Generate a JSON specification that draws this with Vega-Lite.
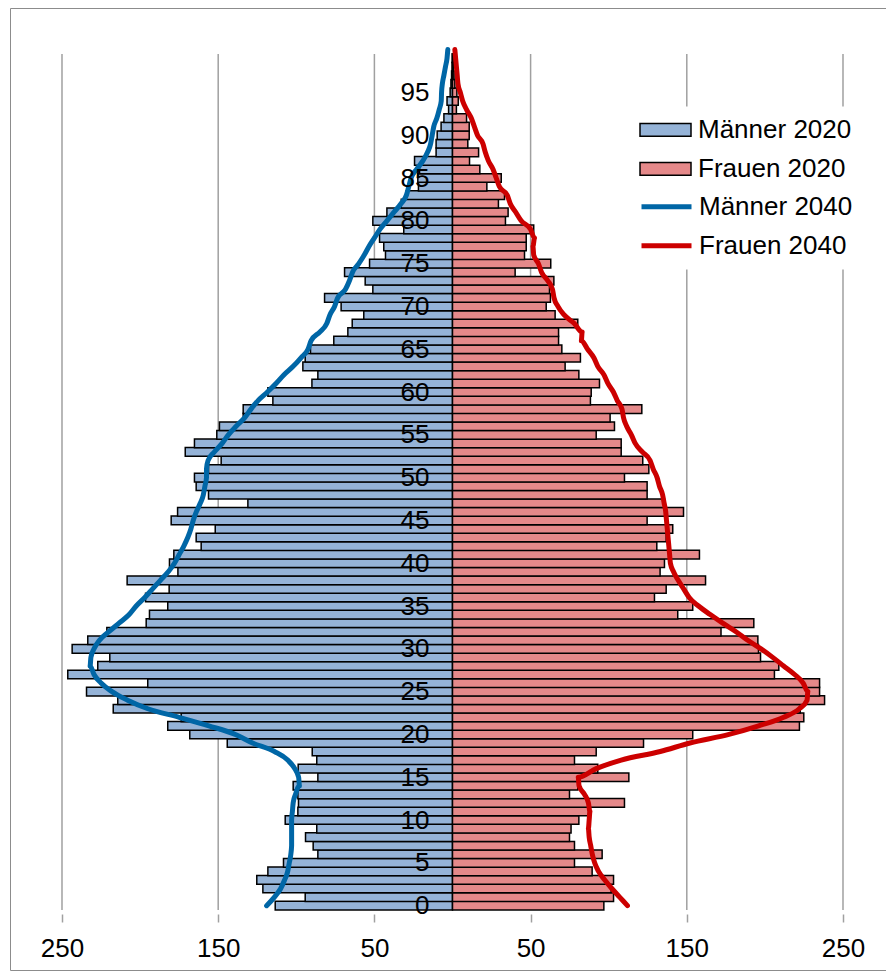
{
  "$schema": "https://vega.github.io/schema/vega-lite/v6.json",
  "width": 876,
  "height": 962,
  "autosize": {"type": "none"},
  "padding": {"left": 10, "top": 8, "right": 0, "bottom": 1},
  "background": "white",
  "config": {
    "view": {"stroke": "#8C8C8C", "strokeWidth": 1},
    "font": "Liberation Sans"
  },
  "datasets": {
    "ticks": [{"tick": -250}, {"tick": -150}, {"tick": -50}, {"tick": 50}, {"tick": 150}, {"tick": 250}],
    "pop2020": [
      {"age":0,"series":"Männer 2020","value":-113.5},{"age":1,"series":"Männer 2020","value":-94.3},{"age":2,"series":"Männer 2020","value":-121.4},{"age":3,"series":"Männer 2020","value":-125.3},{"age":4,"series":"Männer 2020","value":-118.2},
      {"age":5,"series":"Männer 2020","value":-108.2},{"age":6,"series":"Männer 2020","value":-86.2},{"age":7,"series":"Männer 2020","value":-89.2},{"age":8,"series":"Männer 2020","value":-94.1},{"age":9,"series":"Männer 2020","value":-86.9},
      {"age":10,"series":"Männer 2020","value":-107.1},{"age":11,"series":"Männer 2020","value":-99},{"age":12,"series":"Männer 2020","value":-98.6},{"age":13,"series":"Männer 2020","value":-99},{"age":14,"series":"Männer 2020","value":-102},
      {"age":15,"series":"Männer 2020","value":-86.2},{"age":16,"series":"Männer 2020","value":-98.8},{"age":17,"series":"Männer 2020","value":-86.9},{"age":18,"series":"Männer 2020","value":-89.8},{"age":19,"series":"Männer 2020","value":-144.2},
      {"age":20,"series":"Männer 2020","value":-168.2},{"age":21,"series":"Männer 2020","value":-182.3},{"age":22,"series":"Männer 2020","value":-173.7},{"age":23,"series":"Männer 2020","value":-217.2},{"age":24,"series":"Männer 2020","value":-214.3},
      {"age":25,"series":"Männer 2020","value":-234.3},{"age":26,"series":"Männer 2020","value":-195.1},{"age":27,"series":"Männer 2020","value":-246.3},{"age":28,"series":"Männer 2020","value":-227.1},{"age":29,"series":"Männer 2020","value":-219.4},
      {"age":30,"series":"Männer 2020","value":-243.5},{"age":31,"series":"Männer 2020","value":-233.5},{"age":32,"series":"Männer 2020","value":-221.3},{"age":33,"series":"Männer 2020","value":-196.1},{"age":34,"series":"Männer 2020","value":-194},
      {"age":35,"series":"Männer 2020","value":-182.3},{"age":36,"series":"Männer 2020","value":-196.5},{"age":37,"series":"Männer 2020","value":-181.4},{"age":38,"series":"Männer 2020","value":-208.3},{"age":39,"series":"Männer 2020","value":-175.8},
      {"age":40,"series":"Männer 2020","value":-181.2},{"age":41,"series":"Männer 2020","value":-178.4},{"age":42,"series":"Männer 2020","value":-160.9},{"age":43,"series":"Männer 2020","value":-164.1},{"age":44,"series":"Männer 2020","value":-151.9},
      {"age":45,"series":"Männer 2020","value":-180.1},{"age":46,"series":"Männer 2020","value":-176},{"age":47,"series":"Männer 2020","value":-131},{"age":48,"series":"Männer 2020","value":-156.2},{"age":49,"series":"Männer 2020","value":-164.1},
      {"age":50,"series":"Männer 2020","value":-165.2},{"age":51,"series":"Männer 2020","value":-156.2},{"age":52,"series":"Männer 2020","value":-148.1},{"age":53,"series":"Männer 2020","value":-171.1},{"age":54,"series":"Männer 2020","value":-165.2},
      {"age":55,"series":"Männer 2020","value":-150.9},{"age":56,"series":"Männer 2020","value":-149.2},{"age":57,"series":"Männer 2020","value":-134},{"age":58,"series":"Männer 2020","value":-134},{"age":59,"series":"Männer 2020","value":-115},
      {"age":60,"series":"Männer 2020","value":-118.2},{"age":61,"series":"Männer 2020","value":-90},{"age":62,"series":"Männer 2020","value":-86.2},{"age":63,"series":"Männer 2020","value":-95.8},{"age":64,"series":"Männer 2020","value":-94.3},
      {"age":65,"series":"Männer 2020","value":-90.9},{"age":66,"series":"Männer 2020","value":-76},{"age":67,"series":"Männer 2020","value":-67},{"age":68,"series":"Männer 2020","value":-64.2},{"age":69,"series":"Männer 2020","value":-56.8},
      {"age":70,"series":"Männer 2020","value":-71.3},{"age":71,"series":"Männer 2020","value":-81.9},{"age":72,"series":"Männer 2020","value":-51},{"age":73,"series":"Männer 2020","value":-55.9},{"age":74,"series":"Männer 2020","value":-69.1},
      {"age":75,"series":"Männer 2020","value":-53.1},{"age":76,"series":"Männer 2020","value":-42.9},{"age":77,"series":"Männer 2020","value":-44},{"age":78,"series":"Männer 2020","value":-46.7},{"age":79,"series":"Männer 2020","value":-31.2},
      {"age":80,"series":"Männer 2020","value":-51},{"age":81,"series":"Männer 2020","value":-42},{"age":82,"series":"Männer 2020","value":-32.8},{"age":83,"series":"Männer 2020","value":-29.6},{"age":84,"series":"Männer 2020","value":-21.8},
      {"age":85,"series":"Männer 2020","value":-22.2},{"age":86,"series":"Männer 2020","value":-21.1},{"age":87,"series":"Männer 2020","value":-24.3},{"age":88,"series":"Männer 2020","value":-10.5},{"age":89,"series":"Männer 2020","value":-10.5},
      {"age":90,"series":"Männer 2020","value":-9.8},{"age":91,"series":"Männer 2020","value":-7.3},{"age":92,"series":"Männer 2020","value":-5.5},{"age":93,"series":"Männer 2020","value":-2.5},{"age":94,"series":"Männer 2020","value":-3.5},
      {"age":95,"series":"Männer 2020","value":-1.5},{"age":96,"series":"Männer 2020","value":-1},{"age":97,"series":"Männer 2020","value":-0.6},{"age":98,"series":"Männer 2020","value":-0.3},{"age":99,"series":"Männer 2020","value":-0.2},
      {"age":0,"series":"Frauen 2020","value":96.9},{"age":1,"series":"Frauen 2020","value":103.1},{"age":2,"series":"Frauen 2020","value":101.6},{"age":3,"series":"Frauen 2020","value":103.1},{"age":4,"series":"Frauen 2020","value":89.4},
      {"age":5,"series":"Frauen 2020","value":78.1},{"age":6,"series":"Frauen 2020","value":95.8},{"age":7,"series":"Frauen 2020","value":78.1},{"age":8,"series":"Frauen 2020","value":74.9},{"age":9,"series":"Frauen 2020","value":75.9},
      {"age":10,"series":"Frauen 2020","value":80.9},{"age":11,"series":"Frauen 2020","value":87.1},{"age":12,"series":"Frauen 2020","value":110.1},{"age":13,"series":"Frauen 2020","value":74.9},{"age":14,"series":"Frauen 2020","value":80.2},
      {"age":15,"series":"Frauen 2020","value":112.9},{"age":16,"series":"Frauen 2020","value":93},{"age":17,"series":"Frauen 2020","value":78.1},{"age":18,"series":"Frauen 2020","value":92},{"age":19,"series":"Frauen 2020","value":122.3},
      {"age":20,"series":"Frauen 2020","value":153.8},{"age":21,"series":"Frauen 2020","value":222.1},{"age":22,"series":"Frauen 2020","value":224.9},{"age":23,"series":"Frauen 2020","value":222.6},{"age":24,"series":"Frauen 2020","value":238.2},
      {"age":25,"series":"Frauen 2020","value":235},{"age":26,"series":"Frauen 2020","value":235},{"age":27,"series":"Frauen 2020","value":206.1},{"age":28,"series":"Frauen 2020","value":208.9},{"age":29,"series":"Frauen 2020","value":197.2},
      {"age":30,"series":"Frauen 2020","value":195.9},{"age":31,"series":"Frauen 2020","value":195.5},{"age":32,"series":"Frauen 2020","value":171.9},{"age":33,"series":"Frauen 2020","value":192.9},{"age":34,"series":"Frauen 2020","value":144.2},
      {"age":35,"series":"Frauen 2020","value":153.8},{"age":36,"series":"Frauen 2020","value":129.3},{"age":37,"series":"Frauen 2020","value":136.8},{"age":38,"series":"Frauen 2020","value":162},{"age":39,"series":"Frauen 2020","value":132.9},
      {"age":40,"series":"Frauen 2020","value":135.7},{"age":41,"series":"Frauen 2020","value":158.1},{"age":42,"series":"Frauen 2020","value":130.8},{"age":43,"series":"Frauen 2020","value":136.8},{"age":44,"series":"Frauen 2020","value":141},
      {"age":45,"series":"Frauen 2020","value":124.6},{"age":46,"series":"Frauen 2020","value":147.9},{"age":47,"series":"Frauen 2020","value":135.7},{"age":48,"series":"Frauen 2020","value":124.6},{"age":49,"series":"Frauen 2020","value":124.6},
      {"age":50,"series":"Frauen 2020","value":110.1},{"age":51,"series":"Frauen 2020","value":125.7},{"age":52,"series":"Frauen 2020","value":121.8},{"age":53,"series":"Frauen 2020","value":108},{"age":54,"series":"Frauen 2020","value":108},
      {"age":55,"series":"Frauen 2020","value":92},{"age":56,"series":"Frauen 2020","value":103.7},{"age":57,"series":"Frauen 2020","value":100.9},{"age":58,"series":"Frauen 2020","value":121.2},{"age":59,"series":"Frauen 2020","value":88.3},
      {"age":60,"series":"Frauen 2020","value":88.8},{"age":61,"series":"Frauen 2020","value":94.1},{"age":62,"series":"Frauen 2020","value":80.9},{"age":63,"series":"Frauen 2020","value":72.1},{"age":64,"series":"Frauen 2020","value":81.9},
      {"age":65,"series":"Frauen 2020","value":70},{"age":66,"series":"Frauen 2020","value":67.9},{"age":67,"series":"Frauen 2020","value":67.9},{"age":68,"series":"Frauen 2020","value":80.2},{"age":69,"series":"Frauen 2020","value":65.7},
      {"age":70,"series":"Frauen 2020","value":60},{"age":71,"series":"Frauen 2020","value":62.7},{"age":72,"series":"Frauen 2020","value":62.1},{"age":73,"series":"Frauen 2020","value":64.9},{"age":74,"series":"Frauen 2020","value":40.1},
      {"age":75,"series":"Frauen 2020","value":62.9},{"age":76,"series":"Frauen 2020","value":46.1},{"age":77,"series":"Frauen 2020","value":47.2},{"age":78,"series":"Frauen 2020","value":47.2},{"age":79,"series":"Frauen 2020","value":52},
      {"age":80,"series":"Frauen 2020","value":33.9},{"age":81,"series":"Frauen 2020","value":35.6},{"age":82,"series":"Frauen 2020","value":29.4},{"age":83,"series":"Frauen 2020","value":33.3},{"age":84,"series":"Frauen 2020","value":22},
      {"age":85,"series":"Frauen 2020","value":31.2},{"age":86,"series":"Frauen 2020","value":17.5},{"age":87,"series":"Frauen 2020","value":10.9},{"age":88,"series":"Frauen 2020","value":16.7},{"age":89,"series":"Frauen 2020","value":9.8},
      {"age":90,"series":"Frauen 2020","value":10.7},{"age":91,"series":"Frauen 2020","value":10.7},{"age":92,"series":"Frauen 2020","value":9},{"age":93,"series":"Frauen 2020","value":2.5},{"age":94,"series":"Frauen 2020","value":3.7},
      {"age":95,"series":"Frauen 2020","value":2.8},{"age":96,"series":"Frauen 2020","value":1.5},{"age":97,"series":"Frauen 2020","value":1},{"age":98,"series":"Frauen 2020","value":0.6},{"age":99,"series":"Frauen 2020","value":0.4}
    ],
    "pop2040": [
      {"age":0,"series":"Männer 2040","value":-119},{"age":1,"series":"Männer 2040","value":-114},{"age":2,"series":"Männer 2040","value":-110},{"age":3,"series":"Männer 2040","value":-107.5},{"age":4,"series":"Männer 2040","value":-105.5},
      {"age":5,"series":"Männer 2040","value":-104.5},{"age":6,"series":"Männer 2040","value":-103.5},{"age":7,"series":"Männer 2040","value":-103},{"age":8,"series":"Männer 2040","value":-103},{"age":9,"series":"Männer 2040","value":-103},
      {"age":10,"series":"Männer 2040","value":-103},{"age":11,"series":"Männer 2040","value":-102.5},{"age":12,"series":"Männer 2040","value":-102},{"age":13,"series":"Männer 2040","value":-100.5},{"age":14,"series":"Männer 2040","value":-98},
      {"age":15,"series":"Männer 2040","value":-98.5},{"age":16,"series":"Männer 2040","value":-101},{"age":17,"series":"Männer 2040","value":-105.5},{"age":18,"series":"Männer 2040","value":-114},{"age":19,"series":"Männer 2040","value":-128},
      {"age":20,"series":"Männer 2040","value":-139},{"age":21,"series":"Männer 2040","value":-156},{"age":22,"series":"Männer 2040","value":-175},{"age":23,"series":"Männer 2040","value":-195},{"age":24,"series":"Männer 2040","value":-208},
      {"age":25,"series":"Männer 2040","value":-218},{"age":26,"series":"Männer 2040","value":-225},{"age":27,"series":"Männer 2040","value":-229.5},{"age":28,"series":"Männer 2040","value":-232},{"age":29,"series":"Männer 2040","value":-231.5},
      {"age":30,"series":"Männer 2040","value":-229.5},{"age":31,"series":"Männer 2040","value":-226},{"age":32,"series":"Männer 2040","value":-220},{"age":33,"series":"Männer 2040","value":-213.5},{"age":34,"series":"Männer 2040","value":-207},
      {"age":35,"series":"Männer 2040","value":-202.5},{"age":36,"series":"Männer 2040","value":-197},{"age":37,"series":"Männer 2040","value":-192},{"age":38,"series":"Männer 2040","value":-187},{"age":39,"series":"Männer 2040","value":-182},
      {"age":40,"series":"Männer 2040","value":-178},{"age":41,"series":"Männer 2040","value":-175},{"age":42,"series":"Männer 2040","value":-172},{"age":43,"series":"Männer 2040","value":-169.5},{"age":44,"series":"Männer 2040","value":-167.5},
      {"age":45,"series":"Männer 2040","value":-166},{"age":46,"series":"Männer 2040","value":-164},{"age":47,"series":"Männer 2040","value":-161.5},{"age":48,"series":"Männer 2040","value":-159.5},{"age":49,"series":"Männer 2040","value":-158.5},
      {"age":50,"series":"Männer 2040","value":-157.5},{"age":51,"series":"Männer 2040","value":-157.5},{"age":52,"series":"Männer 2040","value":-156.5},{"age":53,"series":"Männer 2040","value":-152.5},{"age":54,"series":"Männer 2040","value":-147.5},
      {"age":55,"series":"Männer 2040","value":-143.5},{"age":56,"series":"Männer 2040","value":-138.5},{"age":57,"series":"Männer 2040","value":-133},{"age":58,"series":"Männer 2040","value":-129},{"age":59,"series":"Männer 2040","value":-124.5},
      {"age":60,"series":"Männer 2040","value":-118.5},{"age":61,"series":"Männer 2040","value":-113},{"age":62,"series":"Männer 2040","value":-108},{"age":63,"series":"Männer 2040","value":-102},{"age":64,"series":"Männer 2040","value":-97},
      {"age":65,"series":"Männer 2040","value":-92.5},{"age":66,"series":"Männer 2040","value":-90.5},{"age":67,"series":"Männer 2040","value":-85},{"age":68,"series":"Männer 2040","value":-80.5},{"age":69,"series":"Männer 2040","value":-78.5},
      {"age":70,"series":"Männer 2040","value":-75.5},{"age":71,"series":"Männer 2040","value":-73.5},{"age":72,"series":"Männer 2040","value":-68.5},{"age":73,"series":"Männer 2040","value":-66},{"age":74,"series":"Männer 2040","value":-64},
      {"age":75,"series":"Männer 2040","value":-60},{"age":76,"series":"Männer 2040","value":-56.5},{"age":77,"series":"Männer 2040","value":-53.5},{"age":78,"series":"Männer 2040","value":-50},{"age":79,"series":"Männer 2040","value":-46.5},
      {"age":80,"series":"Männer 2040","value":-42},{"age":81,"series":"Männer 2040","value":-37.5},{"age":82,"series":"Männer 2040","value":-33},{"age":83,"series":"Männer 2040","value":-29.5},{"age":84,"series":"Männer 2040","value":-28},
      {"age":85,"series":"Männer 2040","value":-26.5},{"age":86,"series":"Männer 2040","value":-23},{"age":87,"series":"Männer 2040","value":-19},{"age":88,"series":"Männer 2040","value":-16},{"age":89,"series":"Männer 2040","value":-14},
      {"age":90,"series":"Männer 2040","value":-13},{"age":91,"series":"Männer 2040","value":-12},{"age":92,"series":"Männer 2040","value":-10},{"age":93,"series":"Männer 2040","value":-8.5},{"age":94,"series":"Männer 2040","value":-7.2},
      {"age":95,"series":"Männer 2040","value":-7},{"age":96,"series":"Männer 2040","value":-6.5},{"age":97,"series":"Männer 2040","value":-5.5},{"age":98,"series":"Männer 2040","value":-4.5},{"age":99,"series":"Männer 2040","value":-3.5},{"age":100,"series":"Männer 2040","value":-3},
      {"age":0,"series":"Frauen 2040","value":112},{"age":1,"series":"Frauen 2040","value":107},{"age":2,"series":"Frauen 2040","value":102},{"age":3,"series":"Frauen 2040","value":97.5},{"age":4,"series":"Frauen 2040","value":93.5},
      {"age":5,"series":"Frauen 2040","value":91},{"age":6,"series":"Frauen 2040","value":89.5},{"age":7,"series":"Frauen 2040","value":88.5},{"age":8,"series":"Frauen 2040","value":87.5},{"age":9,"series":"Frauen 2040","value":87},
      {"age":10,"series":"Frauen 2040","value":87.5},{"age":11,"series":"Frauen 2040","value":88},{"age":12,"series":"Frauen 2040","value":87},{"age":13,"series":"Frauen 2040","value":84.5},{"age":14,"series":"Frauen 2040","value":81},
      {"age":15,"series":"Frauen 2040","value":80.5},{"age":16,"series":"Frauen 2040","value":92},{"age":17,"series":"Frauen 2040","value":108},{"age":18,"series":"Frauen 2040","value":133},{"age":19,"series":"Frauen 2040","value":152},
      {"age":20,"series":"Frauen 2040","value":177},{"age":21,"series":"Frauen 2040","value":196},{"age":22,"series":"Frauen 2040","value":212},{"age":23,"series":"Frauen 2040","value":222},{"age":24,"series":"Frauen 2040","value":227},
      {"age":25,"series":"Frauen 2040","value":227.5},{"age":26,"series":"Frauen 2040","value":224.5},{"age":27,"series":"Frauen 2040","value":219},{"age":28,"series":"Frauen 2040","value":212},{"age":29,"series":"Frauen 2040","value":205},
      {"age":30,"series":"Frauen 2040","value":197.5},{"age":31,"series":"Frauen 2040","value":189},{"age":32,"series":"Frauen 2040","value":181.5},{"age":33,"series":"Frauen 2040","value":173},{"age":34,"series":"Frauen 2040","value":165},
      {"age":35,"series":"Frauen 2040","value":157.5},{"age":36,"series":"Frauen 2040","value":151.5},{"age":37,"series":"Frauen 2040","value":148},{"age":38,"series":"Frauen 2040","value":144.5},{"age":39,"series":"Frauen 2040","value":141.5},
      {"age":40,"series":"Frauen 2040","value":139.5},{"age":41,"series":"Frauen 2040","value":139},{"age":42,"series":"Frauen 2040","value":138.5},{"age":43,"series":"Frauen 2040","value":138},{"age":44,"series":"Frauen 2040","value":137.5},
      {"age":45,"series":"Frauen 2040","value":137},{"age":46,"series":"Frauen 2040","value":136.5},{"age":47,"series":"Frauen 2040","value":135.5},{"age":48,"series":"Frauen 2040","value":134.5},{"age":49,"series":"Frauen 2040","value":132.5},
      {"age":50,"series":"Frauen 2040","value":131},{"age":51,"series":"Frauen 2040","value":128.5},{"age":52,"series":"Frauen 2040","value":126.5},{"age":53,"series":"Frauen 2040","value":121.5},{"age":54,"series":"Frauen 2040","value":117},
      {"age":55,"series":"Frauen 2040","value":114.5},{"age":56,"series":"Frauen 2040","value":111.5},{"age":57,"series":"Frauen 2040","value":109.5},{"age":58,"series":"Frauen 2040","value":108.5},{"age":59,"series":"Frauen 2040","value":105.5},
      {"age":60,"series":"Frauen 2040","value":103},{"age":61,"series":"Frauen 2040","value":99.5},{"age":62,"series":"Frauen 2040","value":97},{"age":63,"series":"Frauen 2040","value":93},{"age":64,"series":"Frauen 2040","value":90.5},
      {"age":65,"series":"Frauen 2040","value":86.5},{"age":66,"series":"Frauen 2040","value":82.5},{"age":67,"series":"Frauen 2040","value":83},{"age":68,"series":"Frauen 2040","value":78},{"age":69,"series":"Frauen 2040","value":71.5},
      {"age":70,"series":"Frauen 2040","value":67.5},{"age":71,"series":"Frauen 2040","value":65},{"age":72,"series":"Frauen 2040","value":64},{"age":73,"series":"Frauen 2040","value":61},{"age":74,"series":"Frauen 2040","value":57},
      {"age":75,"series":"Frauen 2040","value":55},{"age":76,"series":"Frauen 2040","value":52},{"age":77,"series":"Frauen 2040","value":51.5},{"age":78,"series":"Frauen 2040","value":52.5},{"age":79,"series":"Frauen 2040","value":50},
      {"age":80,"series":"Frauen 2040","value":44},{"age":81,"series":"Frauen 2040","value":40.5},{"age":82,"series":"Frauen 2040","value":37},{"age":83,"series":"Frauen 2040","value":35},{"age":84,"series":"Frauen 2040","value":30},
      {"age":85,"series":"Frauen 2040","value":28},{"age":86,"series":"Frauen 2040","value":26},{"age":87,"series":"Frauen 2040","value":23},{"age":88,"series":"Frauen 2040","value":21},{"age":89,"series":"Frauen 2040","value":19.5},
      {"age":90,"series":"Frauen 2040","value":16},{"age":91,"series":"Frauen 2040","value":14},{"age":92,"series":"Frauen 2040","value":12},{"age":93,"series":"Frauen 2040","value":9},{"age":94,"series":"Frauen 2040","value":6.5},
      {"age":95,"series":"Frauen 2040","value":5},{"age":96,"series":"Frauen 2040","value":3.5},{"age":97,"series":"Frauen 2040","value":3},{"age":98,"series":"Frauen 2040","value":2.5},{"age":99,"series":"Frauen 2040","value":2},{"age":100,"series":"Frauen 2040","value":1.5}
    ]
  },
  "layer": [
    {
      "data": {"name": "ticks"},
      "mark": {"type": "rule", "stroke": "#A0A0A0", "strokeWidth": 1.5},
      "encoding": {
        "x": {
          "field": "tick", "type": "quantitative", "title": null,
          "scale": {"domain": [-283.29, 277.53], "nice": false, "zero": false},
          "axis": {
            "orient": "bottom", "offset": -56, "values": [-250, -150, -50, 50, 150, 250],
            "labelExpr": "abs(datum.value)", "domain": false, "grid": false,
            "ticks": true, "tickSize": 8, "tickColor": "#A0A0A0", "tickWidth": 1.5,
            "labelFontSize": 26, "labelFont": "Liberation Sans", "labelColor": "black", "labelPadding": 13,
            "labelFlush": false, "labelOverlap": false, "title": null
          }
        },
        "y": {
          "datum": -0.5, "type": "quantitative",
          "scale": {"domain": [-6.936, 104.277], "nice": false, "zero": false},
          "axis": {
            "orient": "left", "offset": -443, "values": [0,5,10,15,20,25,30,35,40,45,50,55,60,65,70,75,80,85,90,95],
            "domain": false, "grid": false, "ticks": false, "labelPadding": 24,
            "labelFontSize": 26, "labelFont": "Liberation Sans", "labelColor": "black",
            "labelFlush": false, "labelOverlap": false, "zindex": 1, "title": null
          }
        },
        "y2": {"datum": 99.5}
      }
    },
    {
      "data": {"name": "pop2020"},
      "mark": {"type": "bar", "orient": "horizontal", "size": 8.65, "stroke": "black", "strokeWidth": 1.5},
      "encoding": {
        "x": {"field": "value", "type": "quantitative", "title": null},
        "y": {"field": "age", "type": "quantitative", "title": null},
        "fill": {
          "field": "series", "type": "nominal",
          "scale": {"domain": ["Männer 2020", "Frauen 2020"], "range": ["#95B3D7", "#E5898A"]},
          "legend": {
            "title": null, "orient": "none", "legendX": 625, "legendY": 98.5,
            "padding": 4, "fillColor": "white", "clipHeight": 38.5, "rowPadding": 0,
            "symbolType": "M-1,-0.25H1V0.25H-1Z", "symbolSize": 2601,
            "symbolStrokeColor": "black", "symbolStrokeWidth": 1.5, "symbolOffset": 0,
            "labelFontSize": 26, "labelFont": "Liberation Sans", "labelColor": "black", "labelOffset": 6, "labelLimit": 400
          }
        }
      }
    },
    {
      "data": {"name": "pop2040"},
      "mark": {"type": "line", "strokeWidth": 5, "interpolate": "monotone", "strokeCap": "round", "strokeJoin": "round"},
      "encoding": {
        "x": {"field": "value", "type": "quantitative", "title": null},
        "y": {"field": "age", "type": "quantitative", "title": null},
        "order": {"field": "age", "type": "quantitative"},
        "stroke": {
          "field": "series", "type": "nominal",
          "scale": {"domain": ["Männer 2040", "Frauen 2040"], "range": ["#0066A6", "#CC0000"]},
          "legend": {
            "title": null, "orient": "none", "legendX": 625, "legendY": 175.5,
            "padding": 4, "fillColor": "white", "clipHeight": 38.5, "rowPadding": 0,
            "symbolType": "stroke", "symbolSize": 2500, "symbolStrokeWidth": 5, "symbolOffset": 0,
            "labelFontSize": 26, "labelFont": "Liberation Sans", "labelColor": "black", "labelOffset": 5, "labelLimit": 400
          }
        }
      }
    },
    {
      "mark": {"type": "rule", "stroke": "black", "strokeWidth": 1.5},
      "encoding": {
        "x": {"datum": 0, "type": "quantitative"},
        "y": {"datum": -0.5, "type": "quantitative"},
        "y2": {"datum": 99.5}
      }
    },
    {
      "mark": {"type": "rule", "stroke": "#A0A0A0", "strokeWidth": 1.5},
      "encoding": {
        "x": {"datum": -250, "type": "quantitative"},
        "x2": {"datum": 250},
        "y": {"datum": -0.5, "type": "quantitative"}
      }
    }
  ]
}
